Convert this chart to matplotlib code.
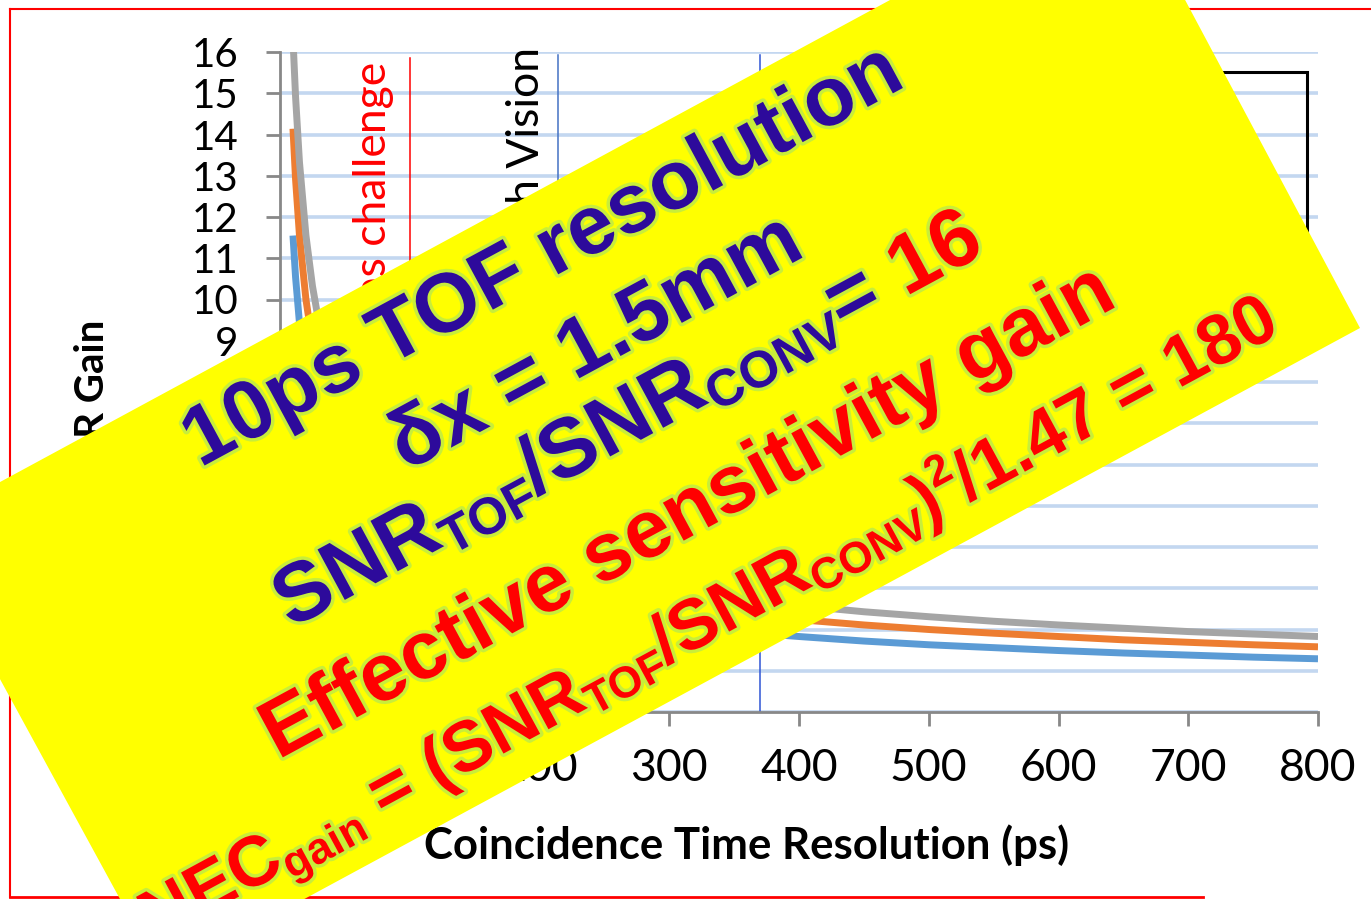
import matplotlib
matplotlib.use("Agg")
import matplotlib.pyplot as plt
import matplotlib.patheffects as pe
from matplotlib.patches import Polygon, Rectangle
from matplotlib.lines import Line2D
import numpy as np

W, H = 1371, 899

# coincidence time resolution (ps) and SNR gain
ctr_ps = [10, 12, 15, 20, 25, 30, 40, 50, 60, 80, 100, 125, 150, 200, 250, 300,
          350, 400, 450, 500, 550, 600, 650, 700, 750, 800]
gain_20cm = [11.55, 10.54, 9.43, 8.16, 7.30, 6.67, 5.77, 5.16, 4.71, 4.08, 3.65, 3.27,
             2.98, 2.58, 2.31, 2.11, 1.95, 1.83, 1.72, 1.63, 1.56, 1.49, 1.43, 1.38, 1.33, 1.29]
gain_30cm = [14.14, 12.91, 11.55, 10.00, 8.94, 8.16, 7.07, 6.32, 5.77, 5.00, 4.47, 4.00,
             3.65, 3.16, 2.83, 2.58, 2.39, 2.24, 2.11, 2.00, 1.91, 1.83, 1.75, 1.69, 1.63, 1.58]
gain_40cm = [16.33, 14.91, 13.33, 11.55, 10.33, 9.43, 8.16, 7.30, 6.67, 5.77, 5.16, 4.62,
             4.22, 3.65, 3.27, 2.98, 2.76, 2.58, 2.43, 2.31, 2.20, 2.11, 2.03, 1.95, 1.89, 1.83]
series_colors = ['#5B9BD5', '#ED7D31', '#A5A5A5']

marker_ps = [100, 214, 370]
marker_top = [15.85, 15.93, 15.93]
marker_labels = ["10ps challenge", "Biograph Vision", ""]
marker_colors = ['#FF0000', '#4472C4', '#2F55D4']

xticks = [0, 100, 200, 300, 400, 500, 600, 700, 800]
yticks = list(range(0, 17))

BLUE = '#2D0A9B'
RED = '#FF0000'
ANGLE = 28.4

banner_lines = [
    ([("10ps TOF resolution", BLUE, 'n')], (200, 468), 60),
    ([("δx = 1.5mm", BLUE, 'n')], (406, 472), 60),
    ([("SNR", BLUE, 'n'), ("TOF", BLUE, 'sub'), ("/SNR", BLUE, 'n'), ("CONV", BLUE, 'sub'),
      ("= ", BLUE, 'n'), ("16", RED, 'n')], (291, 629), 60),
    ([("Effective sensitivity gain", RED, 'n')], (278, 760), 59),
    ([("NEC", RED, 'n'), ("gain", RED, 'sub'), (" = (SNR", RED, 'n'), ("TOF", RED, 'sub'),
      ("/SNR", RED, 'n'), ("CONV", RED, 'sub'), (")", RED, 'n'), ("2", RED, 'sup'),
      ("/1.47 = 180", RED, 'n')], (155, 942), 51),
]


def fx(px):
    return px / W


def fy(py):
    return 1 - py / H


fig = plt.figure(figsize=(W / 100, H / 100), dpi=100)
fig.patch.set_facecolor('white')

ax = fig.add_axes([fx(280), fy(712), (1318 - 280) / W, (712 - 52) / H])
for ys, col in zip([gain_20cm, gain_30cm, gain_40cm], series_colors):
    ax.plot(ctr_ps, ys, color=col, linewidth=5, solid_capstyle='butt', zorder=3)
for x, top, col in zip(marker_ps, marker_top, marker_colors):
    ax.plot([x, x], [0, top], color=col, linewidth=1.1, zorder=2)
ax.annotate(marker_labels[0], xy=(marker_ps[0], 15.76), xytext=(-11, 0), textcoords='offset points',
            rotation=90, ha='right', va='top', color='#FF0000', fontsize=32, family='Lato')
ax.annotate(marker_labels[1], xy=(marker_ps[1], 16.12), xytext=(-8, 0), textcoords='offset points',
            rotation=90, ha='right', va='top', color='black', fontsize=32, family='Lato',
            annotation_clip=False)

ax.set_xlim(0, 800)
ax.set_ylim(0, 16)
ax.set_xticks(xticks)
ax.set_yticks(yticks)
ax.yaxis.grid(True, color='#C3D7F0', linewidth=2.6)
ax.set_axisbelow(True)
for sp in ['top', 'right']:
    ax.spines[sp].set_visible(False)
for sp in ['left', 'bottom']:
    ax.spines[sp].set_color('#888888')
    ax.spines[sp].set_linewidth(2)
ax.tick_params(axis='both', direction='out', length=10, width=2, color='#888888')
ax.tick_params(axis='y', labelsize=29, pad=20)
ax.tick_params(axis='x', labelsize=32, pad=16)
for lab in ax.get_xticklabels() + ax.get_yticklabels():
    lab.set_family('Lato')

# legend frame, mostly hidden under the banner
ax.add_patch(Rectangle((fx(950), fy(300)), (1307 - 950) / W, (300 - 72) / H,
                       transform=fig.transFigure, fill=False, edgecolor='black',
                       linewidth=2.2, zorder=4, clip_on=False))

fig.text(fx(93), fy(320), "SNR Gain", rotation=90, ha='center', va='top',
         fontsize=29, fontweight='bold', family='Lato', zorder=0.5)
fig.text(fx(747), fy(845), "Coincidence Time Resolution (ps)", ha='center', va='center',
         fontsize=31.5, fontweight='bold', family='Lato', zorder=0.5)

# red frame
fig.add_artist(Line2D([fx(10), fx(1371)], [fy(9), fy(9)], color='red', linewidth=1.5))
fig.add_artist(Line2D([fx(10), fx(10)], [fy(9), fy(897)], color='red', linewidth=1.5))
fig.add_artist(Line2D([fx(10), fx(1203)], [fy(897), fy(897)], color='red', linewidth=2))

# yellow banner
corners = [(1119, -124), (1360, 328), (162, 976), (-83, 527)]
fig.add_artist(Polygon([(fx(a), fy(b)) for a, b in corners], closed=True,
                       facecolor='#FFFF00', edgecolor='none', zorder=2))

renderer = fig.canvas.get_renderer()
glow = [pe.withStroke(linewidth=5, foreground='#C8EE3A')]
c, s = np.cos(np.radians(ANGLE)), np.sin(np.radians(ANGLE))
for pieces, (x0, y0), size in banner_lines:
    x, y = x0, H - y0
    for txt, col, kind in pieces:
        fs = size if kind == 'n' else size * 0.62
        shift = {'n': 0, 'sub': -0.14, 'sup': 0.40}[kind] * size * 100 / 72
        px, py = x - s * shift, y + c * shift
        fig.text(px / W, py / H, txt, rotation=ANGLE, rotation_mode='anchor',
                 ha='left', va='baseline', color=col, fontsize=fs, fontweight='bold',
                 family='Liberation Sans', zorder=3, path_effects=glow)
        tmp = fig.text(0, 0, txt, fontsize=fs, fontweight='bold', family='Liberation Sans')
        w = tmp.get_window_extent(renderer).width
        tmp.remove()
        x += c * w
        y += s * w

fig.savefig('out.png', dpi=100)
